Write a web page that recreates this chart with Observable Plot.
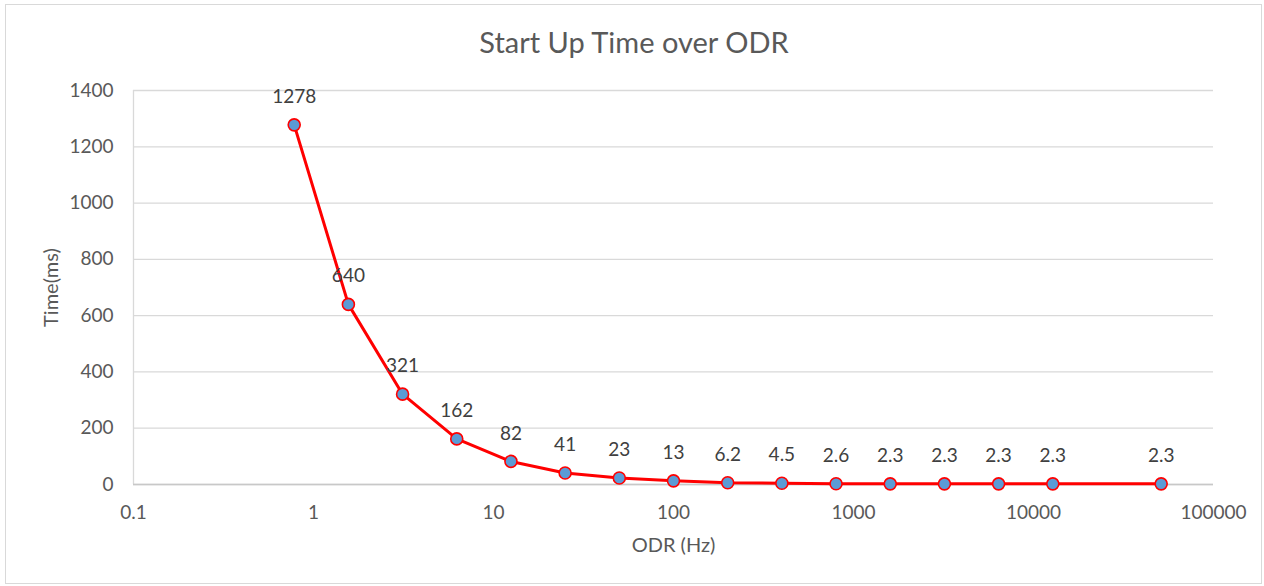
<!DOCTYPE html>
<html><head><meta charset="utf-8">
<script src="https://cdn.jsdelivr.net/npm/d3@7"></script>
<script src="https://cdn.jsdelivr.net/npm/@observablehq/plot@0.6"></script>
<style>
body{margin:0;background:#fff;}
#wrap{position:relative;width:1264px;height:586px;font-family:Lato,"Open Sans",sans-serif;}
#frame{position:absolute;left:5px;top:4px;width:1257px;height:580px;border:1px solid #d9d9d9;box-sizing:border-box;}
#title{position:absolute;left:0;width:1268px;top:26px;text-align:center;font-size:29px;line-height:32px;color:#595959;}
#chart{position:absolute;left:0;top:0;}
</style></head><body>
<div id="wrap"><div id="frame"></div><div id="title">Start Up Time over ODR</div><div id="chart"></div></div>
<script>
const odr = [0.78125, 1.5625, 3.125, 6.25, 12.5, 25, 50, 100, 200, 400, 800, 1600, 3200, 6400, 12800, 51200];
const startupTime = [1278, 640, 321, 162, 82, 41, 23, 13, 6.2, 4.5, 2.6, 2.3, 2.3, 2.3, 2.3, 2.3];
const xTicks = [0.1, 1, 10, 100, 1000, 10000, 100000];
const yTicks = [0, 200, 400, 600, 800, 1000, 1200, 1400];
const xTitle = "ODR (Hz)";
const yTitle = "Time(ms)";

const data = odr.map((x, i) => ({odr: x, time: startupTime[i]}));
const font = "Lato, 'Open Sans', sans-serif";

const chart = Plot.plot({
  width: 1264, height: 586,
  marginLeft: 133, marginRight: 51, marginTop: 90, marginBottom: 102,
  x: {type: "log", domain: [0.1, 100000], label: null},
  y: {domain: [0, 1400], label: null},
  style: {fontFamily: font, fontSize: "19px", color: "#595959", background: "transparent", overflow: "visible"},
  marks: [
    Plot.gridY(yTicks, {stroke: "#d9d9d9", strokeOpacity: 1, strokeWidth: 1.3}),
    Plot.ruleX([0.1], {stroke: "#d9d9d9", strokeWidth: 1.3}),
    Plot.ruleY([0], {stroke: "#c8c8c8", strokeWidth: 1.5}),
    Plot.axisX(xTicks, {tickSize: 0, tickPadding: 21, tickFormat: d => String(d), label: null, fill: "#595959"}),
    Plot.axisY(yTicks, {tickSize: 0, tickPadding: 20, tickFormat: d => String(d), label: null, fill: "#595959"}),
    Plot.line(data, {x: "odr", y: "time", stroke: "#ff0000", strokeWidth: 3}),
    Plot.dot(data, {x: "odr", y: "time", r: 6, fill: "#5b9bd5", stroke: "#ff0000", strokeWidth: 1.6}),
    Plot.text(data, {x: "odr", y: "time", text: d => String(d.time), dy: -28, fill: "#404040", fontSize: 19}),
    Plot.text([xTitle], {text: d => d, frameAnchor: "bottom", dy: 61, lineAnchor: "middle", textAnchor: "middle", fill: "#595959", fontSize: 20}),
    Plot.text([yTitle], {text: d => d, frameAnchor: "left", dx: -82, rotate: -90, lineAnchor: "middle", textAnchor: "middle", fill: "#595959", fontSize: 20})
  ]
});
document.getElementById("chart").appendChild(chart);
</script>
</body></html>
